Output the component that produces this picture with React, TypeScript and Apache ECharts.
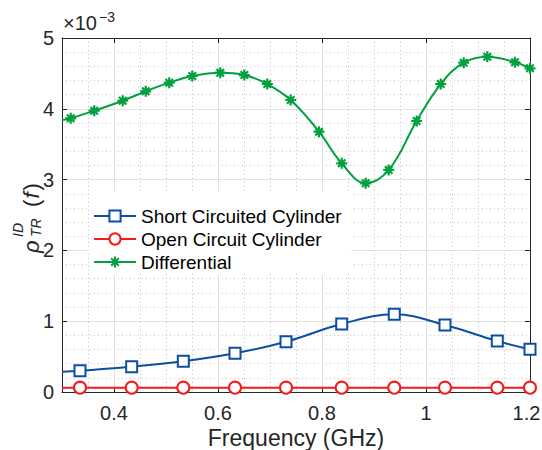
import React, { useEffect, useRef } from "react";
import * as echarts from "echarts";

const FONT = "Liberation Sans, Arial, sans-serif";

// Short circuited cylinder (values ×10^-3)
const scFreq = [0.3, 0.3346, 0.434, 0.5333, 0.6327, 0.7308, 0.8379, 0.939, 1.0365, 1.1371, 1.2];
const scValues = [0.287, 0.301, 0.357, 0.434, 0.547, 0.71, 0.96, 1.097, 0.946, 0.72, 0.603];
const scMarked = [false, true, true, true, true, true, true, true, true, true, true];

// Open circuit cylinder
const ocFreq = [0.3, 0.3346, 0.434, 0.5333, 0.6327, 0.7308, 0.8379, 0.939, 1.0365, 1.1371, 1.2];
const ocValues = [0.061, 0.061, 0.061, 0.061, 0.061, 0.061, 0.061, 0.061, 0.061, 0.061, 0.061];
const ocMarked = [false, true, true, true, true, true, true, true, true, true, true];

// Differential
const diffFreq = [0.3, 0.3167, 0.362, 0.4167, 0.461, 0.5063, 0.5506, 0.6044, 0.6506, 0.6948, 0.7398, 0.7942, 0.8379, 0.884, 0.9283, 0.9821, 1.0283, 1.0725, 1.1179, 1.1712, 1.2];
const diffValues = [3.84, 3.866, 3.973, 4.114, 4.247, 4.369, 4.463, 4.51, 4.477, 4.35, 4.124, 3.677, 3.23, 2.948, 3.136, 3.828, 4.35, 4.651, 4.736, 4.657, 4.572];
const diffMarked = [false, true, true, true, true, true, true, true, true, true, true, true, true, true, true, true, true, true, true, true, true];

const seriesNames = ["Short Circuited Cylinder", "Open Circuit Cylinder", "Differential"];
const xAxisName = "Frequency (GHz)";
const exponentBase = "×10";
const exponentPower = "−3";

const BLUE = "#0b4ea2";
const RED = "#f31b1b";
const GREEN = "#00a03e";
const AXIS = "#262626";
const GRID_MAJOR = "#e1e1e1";
const GRID_MINOR = "#c4c4c4";

const ASTERISK = "path://M5,0L5,10M0,5L10,5M1.6,1.6L8.4,8.4M1.6,8.4L8.4,1.6";

function buildData(freq: number[], vals: number[], marked: boolean[]) {
  return freq.map((f, i) =>
    marked[i] ? { value: [f, vals[i]] } : { value: [f, vals[i]], symbol: "none" }
  );
}

export default function App() {
  const ref = useRef<HTMLDivElement>(null);

  useEffect(() => {
    if (!ref.current) return;
    const chart = echarts.init(ref.current, undefined, { renderer: "svg" });

    const txt = (text: string, x: number, y: number, size: number, italic = false) => ({
      type: "text",
      x,
      y,
      style: {
        text,
        fontFamily: FONT,
        fontSize: size,
        fontStyle: italic ? "italic" : "normal",
        fill: AXIS,
        verticalAlign: "middle",
        align: "left",
      },
    });

    const option: any = {
      animation: false,
      backgroundColor: "#ffffff",
      textStyle: { fontFamily: FONT },
      grid: { left: 62, right: 12, top: 38, bottom: 58, containLabel: false, outerBoundsMode: "none" },
      xAxis: [
        {
          type: "value",
          position: "bottom",
          min: 0.3,
          max: 1.2,
          z: 2,
          axisLine: { show: true, lineStyle: { color: AXIS, width: 1 } },
          axisTick: { show: true, inside: true, length: 5, lineStyle: { color: AXIS } },
          axisLabel: {
            fontFamily: FONT,
            fontSize: 20,
            color: AXIS,
            margin: 11,
            showMinLabel: false,
            formatter: (v: number) => {
              if (Math.abs(v - 0.3) < 1e-6) return "";
              const s = String(Math.round(v * 10) / 10);
              return Math.abs(v - 1.2) < 1e-6 ? `{m|${s}}` : s;
            },
            rich: {
              m: { fontFamily: FONT, fontSize: 20, color: AXIS, padding: [0, 7, 0, 0] },
            },
          },
          splitLine: { show: true, lineStyle: { color: GRID_MAJOR, width: 1 } },
          name: xAxisName,
          nameLocation: "middle",
          nameGap: 34,
          nameMoveOverlap: false,
          nameTextStyle: { fontFamily: FONT, fontSize: 23, color: AXIS },
        },
        {
          type: "value",
          position: "bottom",
          min: 0.3,
          max: 1.2,
          interval: 0.05,
          z: 1,
          axisLine: { show: false },
          axisTick: { show: false },
          axisLabel: { show: false },
          splitLine: { show: true, lineStyle: { color: GRID_MINOR, width: 1, type: [1, 3] } },
        },
        {
          type: "value",
          position: "top",
          min: 0.3,
          max: 1.2,
          z: 2,
          axisLine: { show: true, lineStyle: { color: AXIS, width: 1 } },
          axisTick: { show: true, inside: true, length: 5, lineStyle: { color: AXIS } },
          axisLabel: { show: false },
          splitLine: { show: false },
        },
      ],
      yAxis: [
        {
          type: "value",
          position: "left",
          min: 0,
          max: 5,
          interval: 1,
          z: 2,
          axisLine: { show: true, lineStyle: { color: AXIS, width: 1 } },
          axisTick: { show: true, inside: true, length: 5, lineStyle: { color: AXIS } },
          axisLabel: { fontFamily: FONT, fontSize: 20, color: AXIS, margin: 8 },
          splitLine: { show: true, lineStyle: { color: GRID_MAJOR, width: 1 } },
          minorTick: { show: false, splitNumber: 5 },
          minorSplitLine: { show: true, lineStyle: { color: GRID_MINOR, width: 1, type: [1, 3] } },
        },
        {
          type: "value",
          position: "right",
          min: 0,
          max: 5,
          interval: 1,
          z: 2,
          axisLine: { show: true, lineStyle: { color: AXIS, width: 1 } },
          axisTick: { show: true, inside: true, length: 5, lineStyle: { color: AXIS } },
          axisLabel: { show: false },
          splitLine: { show: false },
        },
      ],
      legend: {
        orient: "vertical",
        left: 89,
        top: 191,
        padding: [15, 10, 2, 4],
        backgroundColor: "#ffffff",
        borderWidth: 0,
        itemWidth: 42,
        itemHeight: 14,
        itemGap: 3,
        textStyle: { fontFamily: FONT, fontSize: 19, color: "#000000", lineHeight: 20 },
        data: seriesNames,
      },
      series: [
        {
          name: seriesNames[0],
          type: "line",
          smooth: 0.4,
          symbol: "emptyRect",
          symbolSize: 11,
          lineStyle: { color: BLUE, width: 2 },
          itemStyle: { color: BLUE, borderColor: BLUE, borderWidth: 2 },
          data: buildData(scFreq, scValues, scMarked),
          z: 3,
        },
        {
          name: seriesNames[1],
          type: "line",
          smooth: 0.4,
          symbol: "emptyCircle",
          symbolSize: 12,
          lineStyle: { color: RED, width: 2 },
          itemStyle: { color: RED, borderColor: RED, borderWidth: 2 },
          data: buildData(ocFreq, ocValues, ocMarked),
          z: 4,
        },
        {
          name: seriesNames[2],
          type: "line",
          smooth: 0.4,
          symbol: ASTERISK,
          symbolSize: 11,
          lineStyle: { color: GREEN, width: 2 },
          itemStyle: { color: GREEN, borderColor: GREEN, borderWidth: 2.2 },
          data: buildData(diffFreq, diffValues, diffMarked),
          z: 5,
        },
      ],
      graphic: [
        txt(exponentBase, 63, 23, 20),
        txt(exponentPower, 99, 17, 14),
        {
          type: "group",
          x: 39,
          y: 217,
          rotation: Math.PI / 2,
          children: [
            txt("ρ", -36, -7.5, 22, true),
            txt("ID", -20, -21, 14, true),
            txt("TR", -20, -3, 14, true),
            txt("(", 10, -7.5, 22),
            txt("f", 18.5, -7.5, 22, true),
            txt(")", 26.5, -7.5, 22),
          ],
        },
      ],
    };

    chart.setOption(option);
    return () => chart.dispose();
  }, []);

  return (
    <div
      ref={ref}
      style={{ position: "fixed", left: 0, top: 0, width: 542, height: 450, background: "#fff" }}
    />
  );
}
